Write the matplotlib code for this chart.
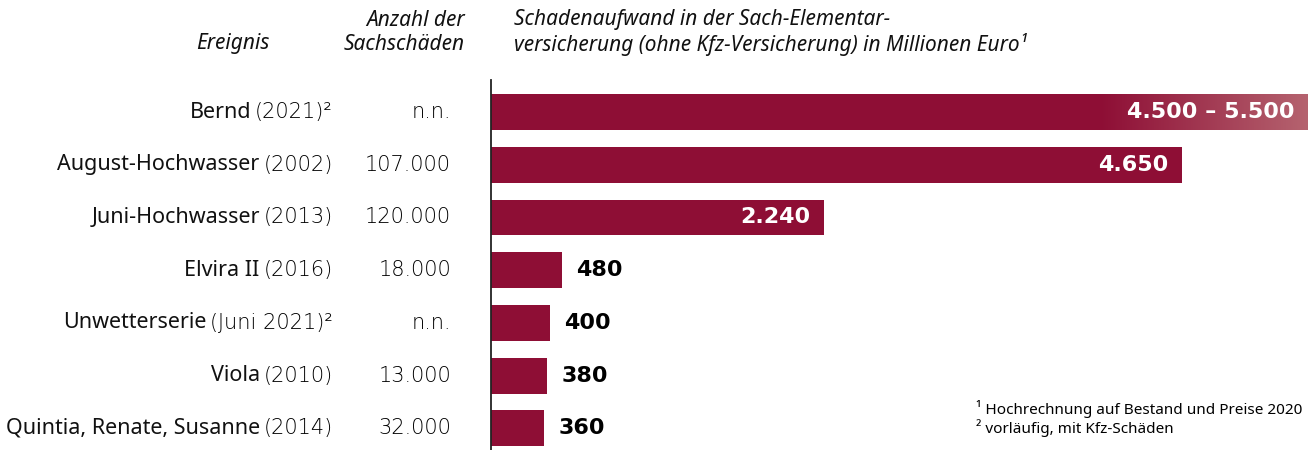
import numpy as np
import matplotlib.pyplot as plt
import matplotlib.transforms as mtransforms
from matplotlib.colors import LinearSegmentedColormap

plt.rcParams['font.family'] = ['Noto Sans', 'DejaVu Sans']

# Daten
ereignisse = ["Bernd", "August-Hochwasser", "Juni-Hochwasser", "Elvira II",
              "Unwetterserie", "Viola", "Quintia, Renate, Susanne"]
jahre = ["(2021)²", "(2002)", "(2013)", "(2016)", "(Juni 2021)²", "(2010)", "(2014)"]
anzahl = ["n.n.", "107.000", "120.000", "18.000", "n.n.", "13.000", "32.000"]
aufwand = [5500, 4650, 2240, 480, 400, 380, 360]
aufwand_min = 4500  # Bernd: Spanne 4.500 - 5.500
wert_labels = ["4.500 – 5.500", "4.650", "2.240", "480", "400", "380", "360"]

rot = "#8E0E35"
hell = "#B5636F"
num_font = ['DejaVu Sans']

W, H = 1308, 450
fig = plt.figure(figsize=(W / 100, H / 100), dpi=100)
ax = fig.add_axes([491 / W, 0, 1 - 491 / W, (H - 80) / H])

y = np.arange(len(ereignisse))
ax.barh(y, aufwand, height=0.68, color=rot, zorder=2)

# Verlauf fuer die Spanne bei Bernd
g_start = 4100
grad = np.linspace(0, 1, 256).reshape(1, -1)
cmap = LinearSegmentedColormap.from_list("verlauf", [rot, hell])
ax.imshow(grad, cmap=cmap, aspect='auto', zorder=3,
          extent=[g_start, aufwand[0], y[0] + 0.34, y[0] - 0.34])

ax.set_xlim(0, 5500)
ax.set_ylim(6.41, -0.607)
for s in ["top", "right", "bottom"]:
    ax.spines[s].set_visible(False)
ax.spines["left"].set_color("#222222")
ax.spines["left"].set_linewidth(1.3)
ax.set_xticks([])
ax.set_yticks([])

# Werte
for i, (v, lab) in enumerate(zip(aufwand, wert_labels)):
    if v > 1000:
        ax.text(v - 90, i, lab, ha='right', va='center', color='white',
                fontsize=16, fontweight='bold', family=num_font, zorder=4)
    else:
        ax.text(v + 95, i, lab, ha='left', va='center', color='black',
                fontsize=16, fontweight='bold', family=num_font, zorder=4)

# Beschriftungen links
trans = mtransforms.blended_transform_factory(fig.transFigure, ax.transData)
fig.canvas.draw()
renderer = fig.canvas.get_renderer()
for i in range(len(ereignisse)):
    t = fig.text(333 / W, i, jahre[i], transform=trans, ha='right', va='center',
                 fontsize=15, fontweight='light', family=num_font, color='black')
    bb = t.get_window_extent(renderer)
    fig.text((bb.x0 - 4) / W, i, ereignisse[i], transform=trans, ha='right',
             va='center', fontsize=15.5, color='#111111')
    fig.text(451 / W, i, anzahl[i], transform=trans, ha='right', va='center',
             fontsize=15, fontweight='light', family=num_font, color='black')

# Kopfzeilen
kopf = dict(fontsize=15, style='italic', va='center', color='#111111')
fig.text(233 / W, 1 - 44 / H, "Ereignis", ha='center', **kopf)
fig.text(465 / W, 1 - 20 / H, "Anzahl der", ha='right', **kopf)
fig.text(465 / W, 1 - 44 / H, "Sachschäden", ha='right', **kopf)
fig.text(514 / W, 1 - 20 / H, "Schadenaufwand in der Sach-Elementar-",
         ha='left', **kopf)
fig.text(514 / W, 1 - 44 / H, "versicherung (ohne Kfz-Versicherung) in Millionen Euro¹",
         ha='left', **kopf)

# Fussnoten
fig.text(976 / W, 1 - 409 / H, "¹ Hochrechnung auf Bestand und Preise 2020",
         ha='left', va='center', fontsize=11)
fig.text(976 / W, 1 - 428 / H, "² vorläufig, mit Kfz-Schäden",
         ha='left', va='center', fontsize=11)

fig.savefig("out.png", dpi=100)
